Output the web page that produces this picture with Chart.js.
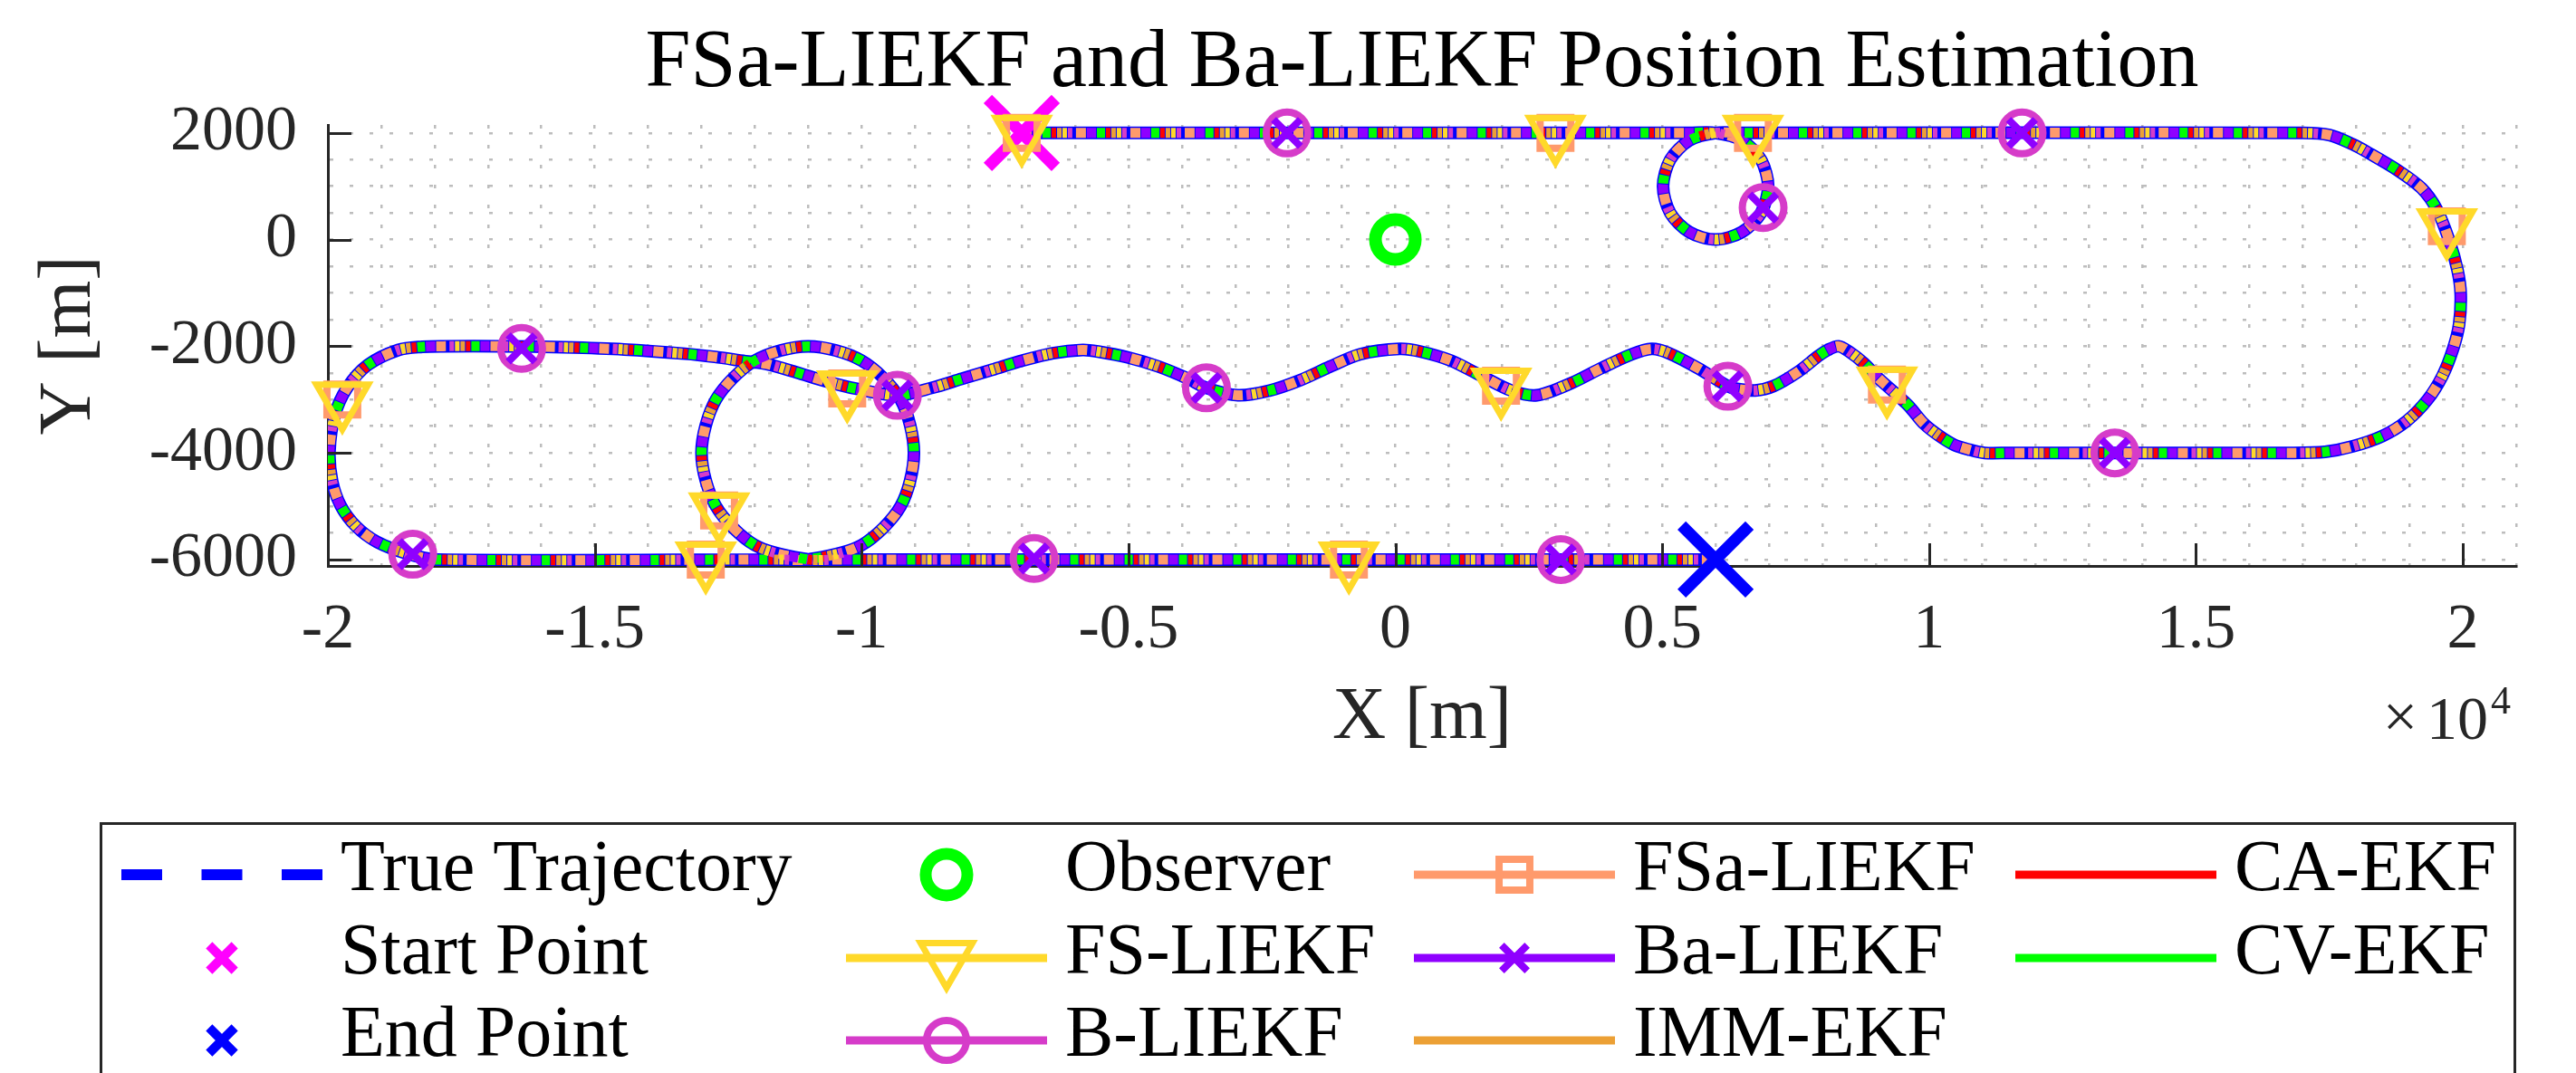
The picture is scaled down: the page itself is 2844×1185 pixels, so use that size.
<!DOCTYPE html>
<html>
<head>
<meta charset="utf-8">
<title>FSa-LIEKF and Ba-LIEKF Position Estimation</title>
<script src="https://cdn.jsdelivr.net/npm/chart.js@4.4.1/dist/chart.umd.min.js"></script>
<style>
  html, body { margin: 0; padding: 0; background: #fff; }
  #wrap { width: 2844px; height: 1185px; }
</style>
</head>
<body>
<div id="wrap"><canvas id="traj" width="2844" height="1185"></canvas></div>
<script>
// ---- data (metres) ----
const seriesNames = ['True Trajectory', 'Start Point', 'End Point', 'Observer', 'FS-LIEKF', 'B-LIEKF',
  'FSa-LIEKF', 'Ba-LIEKF', 'IMM-EKF', 'CA-EKF', 'CV-EKF'];
const seriesColors = ['#0000ff', '#ff00ff', '#0000ff', '#00ff00', '#ffd92a', '#d63cc9',
  '#ff9a6c', '#8f00ff', '#eca035', '#ff0000', '#00ff00'];

// true path, in travel order
const trueX = [-7000, 5500, 6000, 6490, 6850, 6985, 6850, 6490, 6000, 5510, 5150, 5015, 5150, 5510, 6000, 6500,
  17000, 17500, 17930, 18210, 18780, 19230, 19510, 19740, 19900, 19960, 19930, 19820, 19620, 19340, 18950, 18500,
  17930, 17420, 16800, 11500, 11040, 10755, 10470, 10190, 9910, 9620, 9340, 9060, 8780, 8500, 8300, 8100, 7930,
  7530, 7080, 6740, 6400, 6230, 5670, 5100, 4800, 4430, 3860, 3300, 2650, 2170, 1600, 1040, 470, 80, -660, -1220,
  -1790, -2350, -2950, -3540, -3880, -4440, -5010, -5570, -5860, -6420, -6990, -7550, -8120, -8680, -9330, -10090,
  -10660, -11220, -11790, -12180, -12750, -13310, -14450, -15570, -16700, -17840, -18230, -18680, -19250, -19640,
  -19870, -19970, -19920, -19760, -19470, -19080, -18510, -17950, -11500, -11000, -10000, -9270, -9020, -9270,
  -10000, -11000, -12000, -12730, -13000, -12730, -12000, -11000, -10500, 6000];
const trueY = [2000, 2000, 2000, 1860, 1500, 1000, 500, 140, 0, 140, 500, 1000, 1500, 1860, 2000, 2000,
  2000, 1960, 1790, 1640, 1300, 960, 570, 0, -570, -1020, -1590, -2040, -2550, -3000, -3400, -3680,
  -3880, -3980, -4000, -4000, -4000, -3940, -3850, -3680, -3460, -3120, -2860, -2610, -2320, -2100, -2000, -2070, -2180,
  -2490, -2750, -2830, -2800, -2750, -2410, -2120, -2050, -2150, -2410, -2690, -2920, -2830, -2550, -2270, -2100, -2050, -2150, -2380,
  -2640, -2830, -2920, -2780, -2610, -2380, -2210, -2100, -2070, -2130, -2270, -2440, -2610, -2780, -2920, -2800,
  -2660, -2490, -2330, -2280, -2200, -2140, -2060, -2020, -2000, -2000, -2010, -2070, -2350, -2780,
  -3290, -3970, -4530, -4990, -5380, -5670, -5890, -6000, -6000, -6000, -5730, -5000, -4000, -3000,
  -2270, -2000, -2270, -3000, -4000, -5000, -5730, -6000, -6000, -6000];

const startX = [-7000], startY = [2000];
const endX = [6000], endY = [-6000];
const observerX = [0], observerY = [0];

// marker positions of the LIEKF runs (FS and FSa share them, B and Ba share them)
const fsMarkX = [-7000, 3000, 6700, 19700, 9210, 1980, -10270, -19730, -12920, -12670, -870];
const fsMarkY = [2000, 2000, 2000, 250, -2720, -2740, -2790, -3000, -6000, -5080, -6000];
const bMarkX = [-2030, 6890, 11740, 13480, 6230, -3540, -9330, -16370, -18410, -6770, 3100];
const bMarkY = [2000, 600, 2000, -4000, -2750, -2780, -2920, -2040, -5900, -5980, -6000];

const xTickValues = [-20000, -15000, -10000, -5000, 0, 5000, 10000, 15000, 20000];
const xTickLabels = ['-2', '-1.5', '-1', '-0.5', '0', '0.5', '1', '1.5', '2'];
const yTickValues = [-6000, -4000, -2000, 0, 2000];
const yTickLabels = ['-6000', '-4000', '-2000', '0', '2000'];

// ---- styles ----
const SERIF = '"Liberation Serif", "Times New Roman", serif';
const INK = '#262626';
const GRID = '#bdbdbd';
const DASH = 60;

const pts = (xs, ys) => xs.map((x, i) => ({ x: x, y: ys[i] }));

// minor grid: every 1000 m in x, every 500 m in y
function gridTicks(from, to, step) {
  const t = [];
  for (let v = from; v <= to; v += step) t.push({ value: v });
  return t;
}

// estimate runs sit on the true path at this scale; interleaved dashes give the mixed band
const estimators = [
  { idx: 6, on: 11, start: 0 },
  { idx: 7, on: 10, start: 12 },
  { idx: 10, on: 9, start: 23 },
  { idx: 9, on: 5, start: 33 },
  { idx: 8, on: 5, start: 39 },
  { idx: 4, on: 5, start: 45 },
  { idx: 5, on: 5, start: 51 },
];

const plotMarkers = {
  1: { shape: 'crossRot', radius: 53, width: 13 },
  2: { shape: 'crossRot', radius: 53, width: 13 },
  3: { shape: 'circle', radius: 22, width: 14 },
  4: { shape: 'triangle', rotation: 180, radius: 33, width: 7 },
  5: { shape: 'circle', radius: 23, width: 8 },
  6: { shape: 'rect', radius: 24, width: 8 },
  7: { shape: 'crossRot', radius: 21, width: 8 },
};
const legendMarkers = {
  1: { shape: 'crossRot', radius: 20, width: 10 },
  2: { shape: 'crossRot', radius: 20, width: 10 },
  3: { shape: 'circle', radius: 23, width: 13 },
  4: { shape: 'triangle', rotation: 180, radius: 33, width: 7 },
  5: { shape: 'circle', radius: 22, width: 8 },
  6: { shape: 'rect', radius: 24, width: 8 },
  7: { shape: 'crossRot', radius: 20, width: 8 },
};
const legendLines = { 0: 'dash', 4: 'solid', 5: 'solid', 6: 'solid', 7: 'solid', 8: 'solid', 9: 'solid', 10: 'solid' };

function markerSet(idx, xs, ys, order) {
  const m = plotMarkers[idx];
  return {
    label: seriesNames[idx],
    data: pts(xs, ys),
    showLine: false,
    pointStyle: m.shape,
    pointRotation: m.rotation || 0,
    pointRadius: m.radius,
    pointBorderWidth: m.width,
    pointBorderColor: seriesColors[idx],
    pointBackgroundColor: 'rgba(0,0,0,0)',
    clip: false,
    order: order,
  };
}

const datasets = [{
  label: seriesNames[0],
  data: pts(trueX, trueY),
  showLine: true,
  borderColor: seriesColors[0],
  borderWidth: 14,
  borderJoinStyle: 'round',
  pointRadius: 0,
  tension: 0.3,
  order: 30,
}];
estimators.forEach((e, k) => {
  datasets.push({
    label: seriesNames[e.idx],
    data: pts(trueX, trueY),
    showLine: true,
    borderColor: seriesColors[e.idx],
    borderWidth: 11,
    borderDash: [e.on, DASH - e.on],
    borderDashOffset: -e.start,
    pointRadius: 0,
    tension: 0.3,
    order: 20 - k,
  });
});
datasets.push(markerSet(1, startX, startY, 8));
datasets.push(markerSet(6, fsMarkX, fsMarkY, 7));
datasets.push(markerSet(4, fsMarkX, fsMarkY, 6));
datasets.push(markerSet(5, bMarkX, bMarkY, 5));
datasets.push(markerSet(7, bMarkX, bMarkY, 4));
datasets.push(markerSet(2, endX, endY, 3));
datasets.push(markerSet(3, observerX, observerY, 3));

function drawMarker(ctx, m, color, x, y) {
  ctx.save();
  ctx.strokeStyle = color;
  ctx.fillStyle = 'rgba(0,0,0,0)';
  ctx.lineWidth = m.width;
  Chart.helpers.drawPoint(ctx, { pointStyle: m.shape, rotation: m.rotation || 0, radius: m.radius, borderWidth: m.width }, x, y);
  ctx.restore();
}

const decor = {
  id: 'decor',
  afterDatasetsDraw(chart) {
    const { ctx, chartArea, scales } = chart;
    ctx.save();
    ctx.strokeStyle = INK;
    ctx.lineWidth = 3;
    ctx.beginPath();
    yTickValues.forEach(v => {
      const py = Math.round(scales.y.getPixelForValue(v)) + 0.5;
      ctx.moveTo(chartArea.left, py);
      ctx.lineTo(chartArea.left + 26, py);
    });
    xTickValues.forEach(v => {
      const px = Math.round(scales.x.getPixelForValue(v)) + 0.5;
      ctx.moveTo(px, chartArea.bottom);
      ctx.lineTo(px, chartArea.bottom - 25);
    });
    ctx.stroke();
    ctx.restore();
  },
  afterDraw(chart) {
    const { ctx, chartArea } = chart;
    ctx.save();
    // title
    ctx.fillStyle = '#000';
    ctx.textAlign = 'center';
    ctx.textBaseline = 'alphabetic';
    ctx.font = '90px ' + SERIF;
    ctx.fillText('FSa-LIEKF and Ba-LIEKF Position Estimation', (chartArea.left + chartArea.right) / 2, 95);

    // x10^4 exponent
    ctx.fillStyle = INK;
    ctx.textAlign = 'right';
    ctx.font = '44px ' + SERIF;
    ctx.fillText('4', chartArea.right - 6, 788);
    ctx.font = '68px ' + SERIF;
    ctx.fillText('10', chartArea.right - 31, 816);
    ctx.textAlign = 'center';
    ctx.fillText('\u00d7', chartArea.right - 128, 814);

    // legend box
    ctx.strokeStyle = INK;
    ctx.lineWidth = 3;
    ctx.strokeRect(111.5, 909.5, 2665, 400);

    const cols = [134, 934, 1561, 2225];
    const base = [983, 1075, 1166];
    const len = 222;
    ctx.font = '80px ' + SERIF;
    ctx.textAlign = 'left';
    ctx.textBaseline = 'alphabetic';
    seriesNames.forEach((name, i) => {
      const x0 = cols[Math.floor(i / 3)];
      const yb = base[i % 3];
      const yl = yb - 17;
      const col = seriesColors[i];
      const ls = legendLines[i];
      if (ls) {
        ctx.save();
        ctx.strokeStyle = col;
        ctx.lineWidth = ls === 'dash' ? 12 : 9;
        ctx.setLineDash(ls === 'dash' ? [45, 43.5] : []);
        ctx.beginPath();
        ctx.moveTo(x0, yl);
        ctx.lineTo(x0 + len, yl);
        ctx.stroke();
        ctx.restore();
      }
      if (legendMarkers[i]) drawMarker(ctx, legendMarkers[i], col, x0 + len / 2, yl);
      ctx.fillStyle = '#000';
      ctx.fillText(name, x0 + len + 20, yb);
    });
    ctx.restore();
  }
};

new Chart(document.getElementById('traj'), {
  type: 'scatter',
  data: { datasets: datasets },
  options: {
    responsive: false,
    maintainAspectRatio: false,
    animation: false,
    events: [],
    layout: { padding: { top: 138, left: 0, right: 66, bottom: 329 } },
    plugins: { legend: { display: false }, title: { display: false }, tooltip: { enabled: false } },
    scales: {
      x: {
        type: 'linear',
        position: 'bottom',
        min: -20000,
        max: 21000,
        afterFit: s => { s.height = 231; },
        afterBuildTicks: s => { s.ticks = gridTicks(-20000, 21000, 1000); },
        grid: { color: GRID, lineWidth: 2.5, drawTicks: false },
        border: { display: true, color: INK, width: 3, dash: [4, 18] },
        ticks: {
          autoSkip: false,
          maxRotation: 0,
          minRotation: 0,
          padding: 30,
          color: INK,
          font: { family: SERIF, size: 70 },
          callback: v => {
            const i = xTickValues.indexOf(v);
            return i < 0 ? '' : xTickLabels[i];
          }
        },
        title: { display: true, text: 'X [m]', color: INK, font: { family: SERIF, size: 82 }, padding: { top: 0, bottom: 13 } }
      },
      y: {
        type: 'linear',
        position: 'left',
        min: -6120,
        max: 2150,
        afterFit: s => { s.width = 362; },
        afterBuildTicks: s => { s.ticks = gridTicks(-6000, 2000, 500); },
        grid: { color: GRID, lineWidth: 2.5, drawTicks: false },
        border: { display: true, color: INK, width: 3, dash: [4, 18] },
        ticks: {
          autoSkip: false,
          padding: 34,
          color: INK,
          font: { family: SERIF, size: 70 },
          callback: v => {
            const i = yTickValues.indexOf(v);
            return i < 0 ? '' : yTickLabels[i];
          }
        },
        title: { display: true, text: 'Y [m]', color: INK, font: { family: SERIF, size: 82 }, padding: { top: 28, bottom: 0 } }
      }
    }
  },
  plugins: [decor]
});
</script>
</body>
</html>
